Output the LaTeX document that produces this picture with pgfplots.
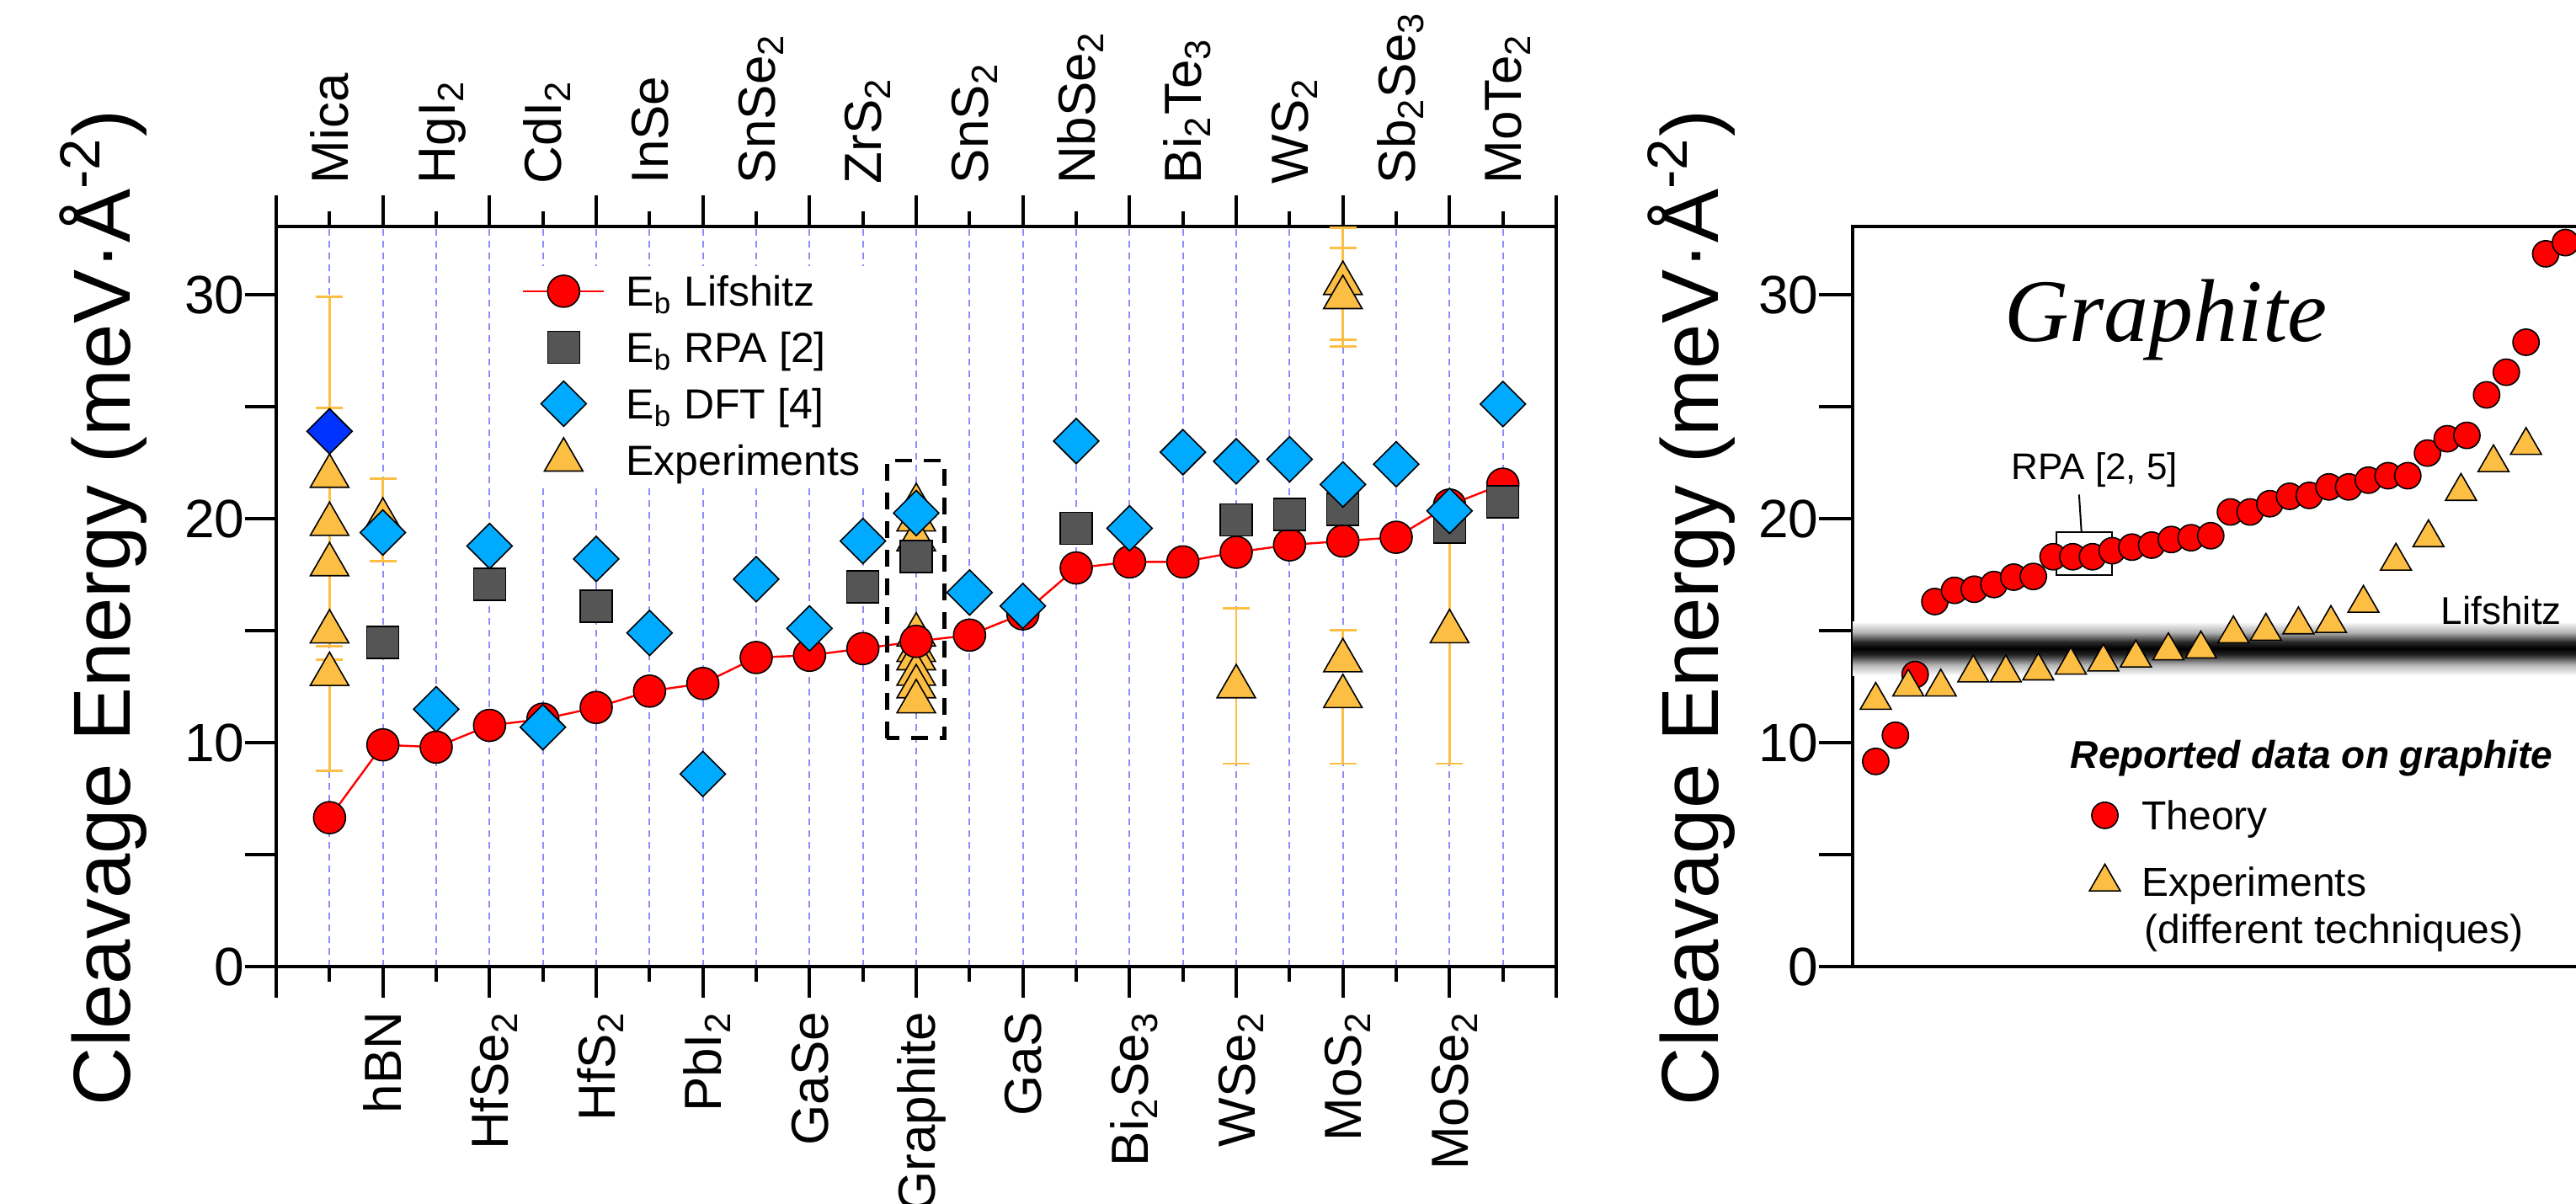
\documentclass[border=0pt]{standalone}
\usepackage{fontspec}
\setmainfont{Liberation Sans}
\newfontfamily\seriffont{Liberation Serif}
\usepackage{pgfplots}
\pgfplotsset{compat=1.18}

\definecolor{expo}{RGB}{253,190,68}
\definecolor{dftb}{RGB}{0,170,255}
\definecolor{micab}{RGB}{0,51,255}
\definecolor{rpag}{RGB}{85,85,85}
\definecolor{gridb}{RGB}{140,140,255}

\pgfdeclareverticalshading{lifshitz}{100bp}{color(0bp)=(white); color(25bp)=(white);
  color(35bp)=(black!30); color(44bp)=(black!85); color(50bp)=(black);
  color(56bp)=(black!85); color(65bp)=(black!30); color(75bp)=(white); color(100bp)=(white)}

\newcommand{\sub}[1]{\textsubscript{#1}}

\tikzset{
  catlab/.style={font=\fontsize{15.5}{15.5}\selectfont, inner sep=0pt, text height=12.6pt, text depth=1.5pt},
}
\pgfplotsset{
  lifs/.style={red, line width=0.6pt, mark=*, mark size=4.75pt, mark options={fill=red, draw=black, line width=0.4pt}},
  rpa/.style={only marks, mark=square*, mark size=4.75pt, mark options={fill=rpag, draw=black, line width=0.4pt}},
  dft/.style={only marks, mark=square*, mark size=4.75pt, mark options={rotate=45, fill=dftb, draw=black, line width=0.4pt}},
  expt/.style={only marks, mark=triangle*, mark size=6.6pt, mark options={fill=expo, draw=black, line width=0.4pt}},
  ebar/.style={only marks, mark=*, mark size=0pt, mark options={draw=none, fill=none},
    error bars/y explicit, error bars/y dir=#1,
    error bars/error bar style={expo, line width=0.7pt},
    error bars/error mark options={expo, rotate=90, mark size=4pt, line width=0.7pt}},
}

\begin{document}
\begin{tikzpicture}
\useasboundingbox (0,0) rectangle (764.75pt,357.5pt);
\clip (0,0) rectangle (764.75pt,357.5pt);

% ---------------- left panel: materials ----------------
\begin{axis}[
  at={(82pt,70.5pt)}, anchor=south west,
  scale only axis, width=380pt, height=219.75pt,
  xmin=0, xmax=24, ymin=0, ymax=33.05,
  clip=false,
  xtick={0,2,...,24}, minor xtick={1,3,...,23}, xticklabels={},
  xtick pos=both, ytick pos=left,
  ytick={0,5,...,30}, yticklabels={0,,10,,20,,30},
  yticklabel style={font=\fontsize{16}{16}\selectfont, inner sep=0pt},
  tick align=outside, major tick length=9.25pt, minor tick length=4.5pt,
  tick style={black, line width=1pt},
  axis line style={line width=1.1pt},
  xmajorgrids, xminorgrids,
  major x grid style={gridb, dash pattern=on 2pt off 1.5pt, line width=0.45pt},
  minor x grid style={gridb, dash pattern=on 2pt off 1.5pt, line width=0.45pt},
  legend image code/.code={\draw[mark repeat=2,mark phase=2,#1] plot coordinates {(0pt,0pt) (12pt,0pt) (24pt,0pt)};},
  legend cell align=left,
  legend style={at={(axis cs:4.3,31.32)}, anchor=north west, draw=none, fill=white,
    inner xsep=4.75pt, inner ysep=0.5pt, column sep=6.25pt, row sep=2.65pt,
    font=\fontsize{12.5}{12.5}\selectfont,
    nodes={inner sep=0pt, text height=11.5pt, text depth=2.55pt}},
]
\addlegendimage{lifs}
\addlegendentry{E\sub{b} Lifshitz}
\addlegendimage{rpa}
\addlegendentry{E\sub{b} RPA [2]}
\addlegendimage{dft}
\addlegendentry{E\sub{b} DFT [4]}
\addlegendimage{expt}
\addlegendentry{Experiments}

% experiments
\addplot[expt, forget plot] coordinates {
  (1,21.9) (1,19.75) (1,17.95) (1,14.95) (1,13.05)
  (2,19.94)
  (12,20.59) (12,19.95) (12,19.07) (12,14.81) (12,14.12) (12,13.75) (12,13.06) (12,12.5) (12,11.83)
  (18,12.5)
  (20,30.51) (20,29.88) (20,13.66) (20,12.06)
  (22,14.96)};
% Lifshitz
\addplot[lifs, forget plot] coordinates {
  (1,6.65) (2,9.9) (3,9.8) (4,10.77) (5,11.05) (6,11.57) (7,12.3) (8,12.64)
  (9,13.8) (10,13.9) (11,14.2) (12,14.52) (13,14.8) (14,15.75) (15,17.8) (16,18.07)
  (17,18.07) (18,18.5) (19,18.83) (20,19.0) (21,19.17) (22,20.61) (23,21.54)};
% RPA
\addplot[rpa, forget plot] coordinates {
  (2,14.47) (4,17.06) (6,16.1) (11,16.96) (12,18.32) (15,19.57)
  (18,19.95) (19,20.2) (20,20.42) (22,19.62) (23,20.75)};
% DFT
\addplot[dft, forget plot] coordinates {
  (2,19.38) (3,11.49) (4,18.78) (5,10.69) (6,18.2) (7,14.9) (8,8.6) (9,17.3)
  (10,15.1) (11,19.0) (12,20.25) (13,16.7) (14,16.1) (15,23.47) (16,19.57)
  (17,22.97) (18,22.56) (19,22.65) (20,21.53) (21,22.43) (22,20.35) (23,25.12)};
\addplot[only marks, mark=square*, mark size=4.75pt, mark options={rotate=45, fill=micab, draw=black, line width=0.4pt}, forget plot] coordinates {(1,23.9)};
% error bars
\addplot[forget plot, ebar=both] coordinates {
  (1,19.75) += (0,5.2) -= (0,5.45)
  (1,13.05) += (0,0.65) -= (0,4.3)
  (2,19.94) += (0,1.86) -= (0,1.84)
  (18,12.5) += (0,3.5) -= (0,3.44)
  (20,30.51) += (0,2.49) -= (0,2.51)
  (20,29.88) += (0,2.22) -= (0,2.18)
  (22,14.96) += (0,6.1) -= (0,5.9)};
\addplot[forget plot, ebar=plus] coordinates {
  (1,21.9) +- (0,8.0)
  (20,13.66) +- (0,1.37)};
\addplot[forget plot, ebar=minus] coordinates {
  (20,12.06) +- (0,3.0)};

\draw[line width=1.2pt, dash pattern=on 5pt off 3.5pt] (axis cs:11.45,10.2) rectangle (axis cs:12.53,22.6);

% category names
\node[catlab, yshift=12.5pt, rotate=90, anchor=west] at (axis cs:1,33.05) {Mica};
\node[catlab, yshift=12.5pt, rotate=90, anchor=west] at (axis cs:3,33.05) {HgI\sub{2}};
\node[catlab, yshift=12.5pt, rotate=90, anchor=west] at (axis cs:5,33.05) {CdI\sub{2}};
\node[catlab, yshift=12.5pt, rotate=90, anchor=west] at (axis cs:7,33.05) {InSe};
\node[catlab, yshift=12.5pt, rotate=90, anchor=west] at (axis cs:9,33.05) {SnSe\sub{2}};
\node[catlab, yshift=12.5pt, rotate=90, anchor=west] at (axis cs:11,33.05) {ZrS\sub{2}};
\node[catlab, yshift=12.5pt, rotate=90, anchor=west] at (axis cs:13,33.05) {SnS\sub{2}};
\node[catlab, yshift=12.5pt, rotate=90, anchor=west] at (axis cs:15,33.05) {NbSe\sub{2}};
\node[catlab, yshift=12.5pt, rotate=90, anchor=west] at (axis cs:17,33.05) {Bi\sub{2}Te\sub{3}};
\node[catlab, yshift=12.5pt, rotate=90, anchor=west] at (axis cs:19,33.05) {WS\sub{2}};
\node[catlab, yshift=12.5pt, rotate=90, anchor=west] at (axis cs:21,33.05) {Sb\sub{2}Se\sub{3}};
\node[catlab, yshift=12.5pt, rotate=90, anchor=west] at (axis cs:23,33.05) {MoTe\sub{2}};
\node[catlab, yshift=-13.25pt, rotate=90, anchor=east] at (axis cs:2,0) {hBN};
\node[catlab, yshift=-13.25pt, rotate=90, anchor=east] at (axis cs:4,0) {HfSe\sub{2}};
\node[catlab, yshift=-13.25pt, rotate=90, anchor=east] at (axis cs:6,0) {HfS\sub{2}};
\node[catlab, yshift=-13.25pt, rotate=90, anchor=east] at (axis cs:8,0) {PbI\sub{2}};
\node[catlab, yshift=-13.25pt, rotate=90, anchor=east] at (axis cs:10,0) {GaSe};
\node[catlab, yshift=-13.25pt, rotate=90, anchor=east] at (axis cs:12,0) {Graphite};
\node[catlab, yshift=-13.25pt, rotate=90, anchor=east] at (axis cs:14,0) {GaS};
\node[catlab, yshift=-13.25pt, rotate=90, anchor=east] at (axis cs:16,0) {Bi\sub{2}Se\sub{3}};
\node[catlab, yshift=-13.25pt, rotate=90, anchor=east] at (axis cs:18,0) {WSe\sub{2}};
\node[catlab, yshift=-13.25pt, rotate=90, anchor=east] at (axis cs:20,0) {MoS\sub{2}};
\node[catlab, yshift=-13.25pt, rotate=90, anchor=east] at (axis cs:22,0) {MoSe\sub{2}};
\end{axis}

% ---------------- right panel: graphite ----------------
\begin{axis}[
  at={(550pt,70.5pt)}, anchor=south west,
  scale only axis, width=230pt, height=219.75pt,
  xmin=-0.171, xmax=39.145, ymin=0, ymax=33.05,
  clip=false,
  xtick=\empty, ytick pos=left,
  ytick={0,5,...,30}, yticklabels={0,,10,,20,,30},
  yticklabel style={font=\fontsize{16}{16}\selectfont, inner sep=0pt},
  tick align=outside, major tick length=10pt,
  tick style={black, line width=1pt},
  axis line style={line width=1.1pt},
  legend image code/.code={\draw[mark repeat=2,mark phase=2,#1] plot coordinates {(0pt,0pt) (12pt,0pt) (24pt,0pt)};},
  legend cell align=left,
  legend style={at={(axis cs:11.81,7.73)}, anchor=north west, draw=none, fill=none,
    inner xsep=0pt, inner ysep=0pt, column sep=6.4pt, row sep=7.2pt,
    font=\fontsize{12}{12}\selectfont,
    nodes={inner sep=0pt, text height=10.6pt, text depth=2pt}},
]
\shade[shading=lifshitz] (axis cs:-0.171,13.0) rectangle (axis cs:39.145,15.4);
\addlegendimage{only marks, mark=*, mark size=3.9pt, mark options={fill=red, draw=black, line width=0.4pt}}
\addlegendentry{Theory}
\addlegendimage{only marks, mark=triangle*, mark size=5.3pt, mark options={fill=expo, draw=black, line width=0.4pt}}
\addlegendentry{Experiments}

\addplot[only marks, mark=*, mark size=3.9pt, mark options={fill=red, draw=black, line width=0.4pt}, forget plot] coordinates {
  (1,9.16) (2,10.33) (3,13.04) (4,16.30) (5,16.80) (6,16.85) (7,17.06) (8,17.39)
  (9,17.42) (10,18.30) (11,18.30) (12,18.30) (13,18.57) (14,18.73) (15,18.82) (16,19.07)
  (17,19.15) (18,19.24) (19,20.30) (20,20.30) (21,20.67) (22,21.00) (23,21.04) (24,21.42)
  (25,21.42) (26,21.72) (27,21.92) (28,21.92) (29,22.93) (30,23.57) (31,23.72) (32,25.53)
  (33,26.54) (34,27.88) (35,31.83) (36,32.33)};
\addplot[only marks, mark=triangle*, mark size=5.3pt, mark options={fill=expo, draw=black, line width=0.4pt}, forget plot] coordinates {
  (1.00,11.89) (2.65,12.48) (4.30,12.48) (5.95,13.11) (7.60,13.11) (9.25,13.20)
  (10.90,13.46) (12.55,13.60) (14.20,13.78) (15.85,14.10) (17.50,14.18) (19.15,14.86)
  (20.80,14.97) (22.45,15.26) (24.10,15.32) (25.75,16.22) (27.40,18.10) (29.05,19.15)
  (30.70,21.22) (32.35,22.50) (34.00,23.27)};

\draw[line width=0.5pt] (axis cs:10.16,17.48) rectangle (axis cs:12.97,19.40);
\draw[line width=0.5pt] (axis cs:11.32,21.08) -- (axis cs:11.44,19.40);
\node[anchor=base west, inner sep=0pt, font=\fontsize{11}{11}\selectfont] at (axis cs:7.86,21.74) {RPA [2, 5]};
\node[anchor=base west, inner sep=0pt, font=\seriffont\itshape\fontsize{26.5}{26.5}\selectfont] at (axis cs:7.52,27.93) {Graphite};
\node[anchor=base west, inner sep=0pt, font=\fontsize{11.5}{11.5}\selectfont] at (axis cs:29.65,15.3) {Lifshitz};
\node[anchor=base west, inner sep=0pt, font=\bfseries\itshape\fontsize{11.5}{11.5}\selectfont] at (axis cs:10.86,8.87) {Reported data on graphite};
\node[anchor=base west, inner sep=0pt, font=\fontsize{12}{12}\selectfont] at (axis cs:14.6,1.02) {(different techniques)};
\end{axis}

% axis titles
\node[rotate=90, anchor=base, font=\fontsize{24}{24}\selectfont, inner sep=0pt] at (38.75pt,177pt) {Cleavage Energy (meV·Å\textsuperscript{-2})};
\node[rotate=90, anchor=base, font=\fontsize{24}{24}\selectfont, inner sep=0pt] at (510pt,177pt) {Cleavage Energy (meV·Å\textsuperscript{-2})};
\end{tikzpicture}
\end{document}
